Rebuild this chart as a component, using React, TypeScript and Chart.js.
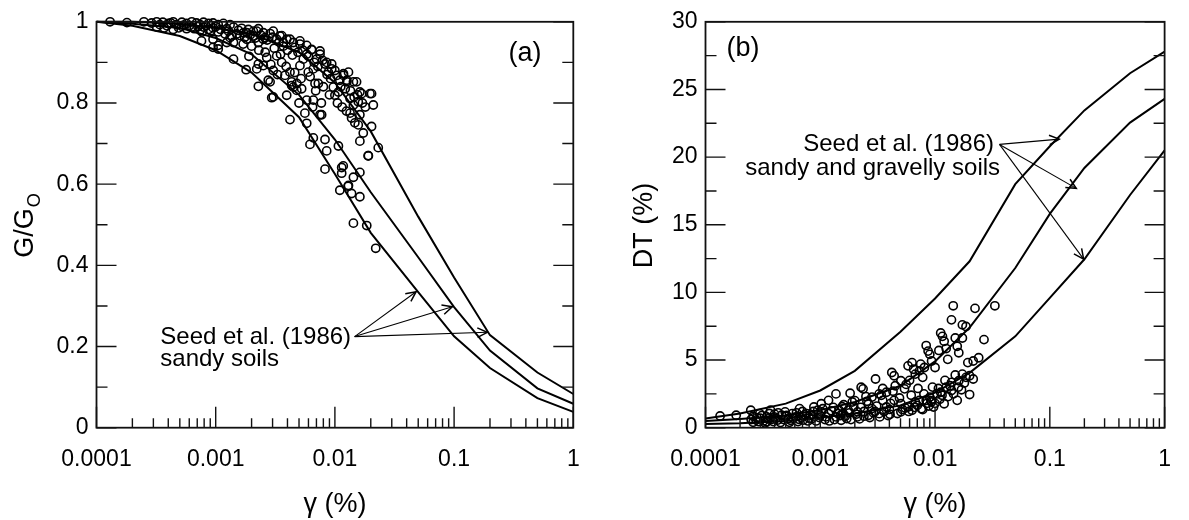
import React, { useEffect, useRef } from 'react';
import { Chart, registerables } from 'chart.js';

Chart.register(...registerables);

const FONT = '"Liberation Sans", Arial, Helvetica, sans-serif';

// ---------- data ----------
const strainGrid = [0.0001, 0.0002, 0.0005, 0.001, 0.002, 0.005, 0.01, 0.02, 0.05, 0.1, 0.2, 0.5, 1];

const seedModulusUpper = [1.0, 1.0, 0.995, 0.985, 0.97, 0.925, 0.85, 0.73, 0.52, 0.37, 0.228, 0.136, 0.083];
const seedModulusMiddle = [1.0, 0.995, 0.985, 0.96, 0.92, 0.82, 0.71, 0.58, 0.42, 0.297, 0.19, 0.097, 0.059];
const seedModulusLower = [1.0, 0.99, 0.965, 0.93, 0.875, 0.765, 0.625, 0.48, 0.334, 0.225, 0.147, 0.073, 0.039];

const seedDampingUpper = [0.68, 1.05, 1.78, 2.75, 4.2, 7.1, 9.55, 12.3, 18.0, 20.8, 23.45, 26.2, 27.8];
const seedDampingMiddle = [0.49, 0.65, 0.9, 1.3, 1.9, 3.1, 4.9, 7.4, 11.8, 15.8, 19.2, 22.55, 24.3];
const seedDampingLower = [0.27, 0.33, 0.5, 0.75, 1.05, 1.65, 2.6, 4.05, 6.75, 9.6, 12.45, 17.2, 20.5];

// measured G/Go  [strain %, G/Go]
const modulusTests: [number, number][] = [
  [1.3e-4, 1.0], [1.8e-4, 0.998], [2.5e-4, 1.0], [2.9e-4, 0.997], [3.2e-4, 1.0], [3.6e-4, 0.999], [4.0e-4, 0.996],
  [4.4e-4, 1.0], [4.7e-4, 0.993], [5.2e-4, 0.999], [5.7e-4, 0.996], [6.3e-4, 1.0], [6.9e-4, 0.997], [7.4e-4, 0.993],
  [7.9e-4, 0.999], [8.7e-4, 0.996], [9.5e-4, 0.997], [1.05e-3, 0.993], [1.16e-3, 0.996], [1.32e-3, 0.993],
  [3.2e-4, 0.987], [3.7e-4, 0.985], [4.4e-4, 0.981], [5.2e-4, 0.989], [5.7e-4, 0.983], [6.3e-4, 0.987], [7.4e-4, 0.979],
  [7.9e-4, 0.987], [8.7e-4, 0.981], [9.5e-4, 0.985], [1.05e-3, 0.975], [1.24e-3, 0.983], [1.41e-3, 0.987], [1.55e-3, 0.979],
  [1.71e-3, 0.973], [1.88e-3, 0.981], [2.07e-3, 0.977], [2.28e-3, 0.983], [2.51e-3, 0.973],
  [7.6e-4, 0.953], [9.5e-4, 0.957], [1.05e-3, 0.942], [1.32e-3, 0.961], [1.41e-3, 0.949], [1.6e-3, 0.966], [1.82e-3, 0.957],
  [2.07e-3, 0.965], [2.28e-3, 0.949], [2.59e-3, 0.961], [2.86e-3, 0.971], [3.25e-3, 0.957], [3.58e-3, 0.966], [3.94e-3, 0.957],
  [4.48e-3, 0.949], [5.09e-3, 0.953], [5.8e-3, 0.942], [6.38e-3, 0.931],
  [9.5e-4, 0.937], [1.24e-3, 0.949], [1.82e-3, 0.973], [2.21e-3, 0.977], [2.51e-3, 0.957], [3.04e-3, 0.977], [3.46e-3, 0.965],
  [3.69e-3, 0.949], [4.2e-3, 0.957], [4.62e-3, 0.937], [5.09e-3, 0.945], [5.8e-3, 0.92], [6.38e-3, 0.932], [7.03e-3, 0.908],
  [7.5e-3, 0.928], [8.53e-3, 0.9], [9.4e-3, 0.884], [1.04e-2, 0.868], [1.18e-2, 0.872], [1.26e-2, 0.856], [1.43e-2, 0.852],
  [1.62e-2, 0.827], [1.97e-2, 0.823], [2.1e-2, 0.795],
  [1.05e-3, 0.933], [1.41e-3, 0.908], [1.8e-3, 0.882], [2.28e-3, 0.841], [2.21e-3, 0.884], [2.51e-3, 0.892], [2.68e-3, 0.912],
  [2.76e-3, 0.856], [3.04e-3, 0.88], [3.25e-3, 0.916], [3.58e-3, 0.9], [3.81e-3, 0.868], [4.2e-3, 0.876], [4.34e-3, 0.852],
  [4.48e-3, 0.839], [4.79e-3, 0.848], [5.26e-3, 0.835], [5.09e-3, 0.892], [5.43e-3, 0.908], [5.98e-3, 0.876], [6.59e-3, 0.884],
  [6.81e-3, 0.848], [7.26e-3, 0.848], [7.5e-3, 0.92], [8.26e-3, 0.896], [8.81e-3, 0.876], [9.4e-3, 0.896], [9.7e-3, 0.839],
  [1.0e-2, 0.819], [1.07e-2, 0.827], [1.1e-2, 0.856], [1.18e-2, 0.868], [1.26e-2, 0.852], [1.3e-2, 0.876], [1.34e-2, 0.811],
  [1.43e-2, 0.795], [1.52e-2, 0.852], [1.57e-2, 0.803], [1.68e-2, 0.823],
  [2.28e-3, 0.896], [2.86e-3, 0.852], [3.04e-3, 0.815], [3.94e-3, 0.819], [4.34e-3, 0.843], [4.79e-3, 0.831], [5.8e-3, 0.807],
  [6.59e-3, 0.807], [7.5e-3, 0.771], [4.2e-3, 0.759], [5.8e-3, 0.75], [5.6e-3, 0.775], [8.26e-3, 0.71], [8.53e-3, 0.682],
  [1.07e-2, 0.694], [6.18e-3, 0.698], [2.95e-3, 0.813], [6.59e-3, 0.714], [7.74e-3, 0.771],
  [8.26e-3, 0.637], [1.14e-2, 0.641], [1.1e-2, 0.585], [1.3e-2, 0.597], [1.43e-2, 0.617], [1.62e-2, 0.569], [1.43e-2, 0.504],
  [1.85e-2, 0.498], [2.2e-2, 0.442], [1.175e-2, 0.645], [1.14e-2, 0.627], [1.29e-2, 0.595], [1.38e-2, 0.577], [1.9e-2, 0.67],
  [1.62e-2, 0.629],
  [1.34e-2, 0.775], [1.38e-2, 0.763], [1.47e-2, 0.751], [1.57e-2, 0.746], [1.62e-2, 0.771], [1.73e-2, 0.726], [1.62e-2, 0.706],
  [1.91e-2, 0.67], [2.03e-2, 0.742], [2.31e-2, 0.69], [2.03e-2, 0.823],
  [3.4e-4, 0.993], [3.9e-4, 0.99], [4.2e-4, 0.997], [4.9e-4, 0.985], [5.4e-4, 0.992], [6.0e-4, 0.99], [6.6e-4, 0.983],
  [7.1e-4, 0.988], [7.7e-4, 0.975], [8.3e-4, 0.99], [9.1e-4, 0.978], [1.0e-3, 0.988], [1.1e-3, 0.981], [1.2e-3, 0.97],
  [1.28e-3, 0.977], [1.36e-3, 0.965], [1.5e-3, 0.97], [1.65e-3, 0.984], [1.75e-3, 0.962], [1.95e-3, 0.968], [2.15e-3, 0.96],
  [2.4e-3, 0.967], [2.7e-3, 0.955], [3.0e-3, 0.962], [3.4e-3, 0.95], [3.7e-3, 0.94], [4.0e-3, 0.93], [4.4e-3, 0.918],
  [4.9e-3, 0.925], [5.4e-3, 0.93], [6.0e-3, 0.915], [6.7e-3, 0.9], [7.2e-3, 0.89], [7.9e-3, 0.905], [8.6e-3, 0.87],
  [9.2e-3, 0.86], [1.0e-2, 0.88], [1.12e-2, 0.84], [1.22e-2, 0.835], [1.35e-2, 0.83], [1.45e-2, 0.815], [1.55e-2, 0.82],
  [1.7e-2, 0.8], [1.8e-2, 0.79], [2.3e-3, 0.93], [2.0e-3, 0.94], [1.7e-3, 0.945], [3.1e-3, 0.935], [3.5e-3, 0.92],
  [2.6e-3, 0.925], [1.9e-3, 0.915], [2.9e-3, 0.895], [3.3e-3, 0.87], [3.9e-3, 0.89], [4.6e-3, 0.875], [5.2e-3, 0.86],
  [6.2e-3, 0.865], [6.9e-3, 0.83], [8.0e-3, 0.84], [9.0e-3, 0.82], [1.05e-2, 0.8], [1.15e-2, 0.79], [1.25e-2, 0.78],
  [6.5e-3, 0.79], [7.7e-3, 0.8], [5.0e-3, 0.8],
];

// measured damping  [strain %, D (%)]
const dampingTests: [number, number][] = [
  [1.34e-4, 0.87], [1.85e-4, 0.92], [2.48e-4, 1.29], [2.97e-4, 1.04], [3.69e-4, 1.29], [4.94e-4, 1.17], [6.6e-4, 1.41],
  [8.8e-4, 1.53], [1.02e-3, 1.77], [1.18e-3, 2.02], [1.37e-3, 2.5], [1.82e-3, 2.55], [2.27e-3, 2.99], [2.36e-3, 2.87],
  [3.03e-3, 3.6], [2.82e-3, 2.26], [3.26e-3, 2.5], [3.77e-3, 2.62], [4.2e-3, 4.08], [4.4e-3, 3.84], [5.04e-3, 3.47],
  [5.42e-3, 2.87], [5.82e-3, 4.57], [6.3e-3, 4.81], [6.5e-3, 4.32], [6.73e-3, 3.96], [7.3e-3, 4.2], [7.8e-3, 3.72],
  [8.07e-3, 4.45], [8.37e-3, 6.07], [8.7e-3, 5.66], [9.0e-3, 5.42], [9.33e-3, 4.93], [1.0e-2, 4.45], [1.08e-2, 5.71],
  [1.12e-2, 7.0], [1.16e-2, 6.75], [1.2e-2, 6.39], [1.25e-2, 5.85], [1.29e-2, 5.05], [1.39e-2, 7.97], [1.44e-2, 9.01],
  [1.5e-2, 6.63], [1.56e-2, 6.02], [1.61e-2, 5.54], [1.73e-2, 7.6], [1.73e-2, 6.63], [1.86e-2, 7.48], [1.93e-2, 4.81],
  [2.15e-2, 4.93], [2.23e-2, 8.82], [2.4e-2, 5.17], [2.67e-2, 6.51], [3.32e-2, 9.01],
  [2.15e-2, 3.6], [2.0e-2, 2.45], [1.56e-2, 2.02], [1.2e-2, 1.77], [9.7e-3, 1.53], [7.8e-3, 1.34], [1.25e-2, 2.99],
  [1.39e-2, 3.35], [1.61e-2, 3.47], [1.73e-2, 3.96], [1.86e-2, 3.72], [2.0e-2, 3.84], [1.39e-2, 2.75], [1.12e-2, 2.62],
  [9.0e-3, 2.26], [7.3e-3, 2.02], [5.82e-3, 1.53],
  [2.76e-4, 0.56], [3.43e-4, 0.44], [4.27e-4, 0.56], [5.3e-4, 0.68], [7.1e-4, 0.56], [8.8e-4, 0.8], [1.1e-3, 0.6],
  [1.37e-3, 0.8], [1.7e-3, 0.68], [2.11e-3, 0.8], [2.63e-3, 0.92], [3.26e-3, 1.04], [4.05e-3, 0.99], [5.04e-3, 1.17],
  [6.3e-3, 1.29], [5.7e-4, 1.04], [7.6e-4, 1.04], [1.02e-3, 1.17], [1.46e-3, 1.29], [1.96e-3, 1.53], [2.63e-3, 1.77],
  [3.5e-3, 2.02], [4.4e-3, 2.02], [3.43e-4, 0.8], [4.6e-4, 0.92], [6.1e-4, 0.8], [8.2e-4, 0.92], [1.18e-3, 1.04],
  [1.58e-3, 1.04], [2.11e-3, 1.17], [2.82e-3, 1.41], [3.77e-3, 1.53], [5.04e-3, 1.77], [6.73e-3, 1.9], [8.37e-3, 2.02],
  [9.3e-3, 1.9], [1.04e-2, 2.5], [3.97e-4, 0.8],
  [2.5e-4, 0.6], [2.6e-4, 0.85], [3.0e-4, 0.7], [3.2e-4, 0.5], [3.8e-4, 0.62], [4.0e-4, 1.0], [5.0e-4, 0.85], [5.5e-4, 0.55],
  [6.5e-4, 0.62], [7.0e-4, 1.2], [8.0e-4, 0.7], [9.5e-4, 1.3], [1.0e-3, 0.9], [1.3e-3, 1.5], [1.5e-3, 0.9], [1.6e-3, 1.7],
  [1.8e-3, 1.1], [2.0e-3, 2.0], [2.4e-3, 1.2], [2.5e-3, 2.3], [3.0e-3, 1.2], [3.5e-3, 2.9], [4.0e-3, 1.35], [4.5e-3, 3.1],
  [5.5e-3, 1.45], [6.0e-3, 3.5], [7.0e-3, 1.65], [7.5e-3, 4.7], [8.5e-3, 1.8], [9.5e-3, 3.0], [1.1e-2, 2.1], [1.3e-2, 2.3],
  [1.5e-2, 3.9], [1.7e-2, 2.8],
  [2.6e-4, 0.4], [2.8e-4, 0.75], [2.9e-4, 0.45], [3.1e-4, 0.9], [3.3e-4, 0.35], [3.5e-4, 0.65], [3.6e-4, 1.05], [3.9e-4, 0.45],
  [4.1e-4, 0.7], [4.3e-4, 1.1], [4.5e-4, 0.38], [4.8e-4, 0.6], [5.1e-4, 0.9], [5.4e-4, 0.4], [5.8e-4, 0.7], [6.2e-4, 1.1],
  [6.4e-4, 0.45], [6.8e-4, 0.75], [7.3e-4, 0.95], [7.8e-4, 0.5], [8.4e-4, 0.65], [8.7e-4, 1.2], [9.2e-4, 0.5], [9.8e-4, 0.75],
  [1.05e-3, 1.4], [1.12e-3, 0.8], [1.2e-3, 0.5], [1.25e-3, 1.25], [1.33e-3, 0.6], [1.42e-3, 1.05], [1.52e-3, 0.55],
  [1.55e-3, 1.55], [1.65e-3, 0.85], [1.75e-3, 1.3], [1.85e-3, 0.6], [1.9e-3, 1.9], [2.05e-3, 1.0], [2.2e-3, 0.65],
  [2.25e-3, 1.5], [2.4e-3, 0.85], [2.55e-3, 1.95], [2.7e-3, 0.75], [2.9e-3, 1.1], [3.1e-3, 1.6], [3.3e-3, 0.8], [3.4e-3, 2.4],
  [3.6e-3, 1.2], [3.9e-3, 0.9], [4.1e-3, 1.8], [4.3e-3, 2.7], [4.7e-3, 1.05], [4.9e-3, 2.2], [5.2e-3, 1.35], [5.6e-3, 3.2],
  [5.9e-3, 1.2], [6.2e-3, 2.4], [6.6e-3, 1.5], [7.1e-3, 2.9], [7.6e-3, 1.4], [8.0e-3, 2.5], [8.8e-3, 1.6], [9.2e-3, 2.0],
  [1.0e-2, 1.8], [1.07e-2, 2.9], [1.15e-2, 2.4], [1.22e-2, 3.5], [1.35e-2, 3.1], [1.45e-2, 2.5], [1.6e-2, 3.0], [1.8e-2, 3.3],
];

const xMajorTicks = [0.0001, 0.001, 0.01, 0.1, 1];
const xTickLabels = ['0.0001', '0.001', '0.01', '0.1', '1'];
const modulusTicks = [0, 0.2, 0.4, 0.6, 0.8, 1];
const modulusTickLabels = ['0', '0.2', '0.4', '0.6', '0.8', '1'];
const modulusMinorTicks = [0.1, 0.3, 0.5, 0.7, 0.9];
const dampingTicks = [0, 5, 10, 15, 20, 25, 30];
const dampingTickLabels = ['0', '5', '10', '15', '20', '25', '30'];
const dampingMinorTicks = [2.5, 7.5, 12.5, 17.5, 22.5, 27.5];

// annotation anchors (data units)
const noteA = { lines: ['Seed et al. (1986)', 'sandy soils'], at: [[3.43e-4, 0.2072], [3.43e-4, 0.152]], tips: [[0.048, 0.335], [0.0966, 0.298], [0.19, 0.235]], gap: 3.5 };
const noteB = { lines: ['Seed et al. (1986)', 'sandy and gravelly soils'], at: [[7.1e-4, 20.42], [2.22e-4, 18.67]], tips: [[0.1208, 21.33], [0.17, 17.69], [0.197, 12.46]], gap: 5.5 };

type Spec = {
  canvasLeft: number;
  canvasWidth: number;
  plotLeft: number;
  plotRight: number;
  yMax: number;
  yTicks: number[];
  yTickLabels: string[];
  yMinor: number[];
  curves: number[][];
  tests: [number, number][];
  note: { lines: string[]; at: number[][]; tips: number[][]; gap: number };
  panelLabel: string;
  panelLabelPos: [string, number, number];
  yTitle: string;
  ySub: string;
  yTitleDx: number;
};

const PLOT_TOP = 15.5;
const PLOT_BOTTOM = 427.7;
const H = 520;

function makeFrame(spec: Spec) {
  return {
    id: 'frame',
    afterDatasetsDraw(chart: any) {
      const { ctx, chartArea, scales } = chart;
      const { left, right, top, bottom } = chartArea;
      const x = scales.x;
      const y = scales.y;
      ctx.save();
      ctx.strokeStyle = '#111';
      ctx.lineWidth = 1.4;
      ctx.beginPath();
      for (let k = -4; k <= 0; k++) {
        for (let m = 1; m <= 9; m++) {
          const v = m * Math.pow(10, k);
          if (v > 1.0000001) continue;
          const px = x.getPixelForValue(v);
          const len = m === 1 ? 21 : 9.5;
          ctx.moveTo(px, bottom);
          ctx.lineTo(px, bottom - len);
        }
      }
      const yTick = (v: number, len: number) => {
        const py = y.getPixelForValue(v);
        ctx.moveTo(left, py);
        ctx.lineTo(left + len, py);
        ctx.moveTo(right, py);
        ctx.lineTo(right - len, py);
      };
      spec.yTicks.forEach((v) => yTick(v, 20));
      spec.yMinor.forEach((v) => yTick(v, 11));
      ctx.stroke();
      ctx.lineWidth = 1.8;
      ctx.strokeStyle = '#111';
      ctx.strokeRect(left, top, right - left, bottom - top);

      ctx.fillStyle = '#000';
      ctx.font = `27px ${FONT}`;
      ctx.textAlign = 'center';
      ctx.textBaseline = 'alphabetic';
      const [side, dx, dy] = spec.panelLabelPos;
      ctx.fillText(spec.panelLabel, side === 'right' ? right - dx : left + dx, top + dy);

      ctx.font = `24px ${FONT}`;
      ctx.textAlign = 'left';
      const note = spec.note;
      note.lines.forEach((t, i) => {
        const [gx, gy] = note.at[i];
        ctx.fillText(t, x.getPixelForValue(gx), y.getPixelForValue(gy));
      });
      const ox = x.getPixelForValue(note.at[0][0]) + ctx.measureText(note.lines[0]).width + note.gap;
      const oy = y.getPixelForValue(note.at[0][1]) - 7;
      ctx.strokeStyle = '#000';
      note.tips.forEach(([tx, ty]) => {
        const px = x.getPixelForValue(tx);
        const py = y.getPixelForValue(ty);
        const ang = Math.atan2(py - oy, px - ox);
        ctx.lineWidth = 1.1;
        ctx.beginPath();
        ctx.moveTo(ox, oy);
        ctx.lineTo(px, py);
        ctx.stroke();
        ctx.lineWidth = 1.5;
        ctx.beginPath();
        const hl = 11;
        ctx.moveTo(px - hl * Math.cos(ang - 0.45), py - hl * Math.sin(ang - 0.45));
        ctx.lineTo(px, py);
        ctx.lineTo(px - hl * Math.cos(ang + 0.45), py - hl * Math.sin(ang + 0.45));
        ctx.stroke();
      });

      ctx.font = `27px ${FONT}`;
      ctx.textAlign = 'center';
      ctx.textBaseline = 'alphabetic';
      ctx.fillText('γ (%)', (left + right) / 2, bottom + 84);

      ctx.save();
      const mainW = ctx.measureText(spec.yTitle).width;
      ctx.font = `18px ${FONT}`;
      const subW = spec.ySub ? ctx.measureText(spec.ySub).width + 1 : 0;
      const total = mainW + subW;
      const cy = 225.5;
      ctx.translate(left + spec.yTitleDx, cy + total / 2);
      ctx.rotate(-Math.PI / 2);
      ctx.textAlign = 'left';
      ctx.font = `27px ${FONT}`;
      ctx.fillText(spec.yTitle, 0, 0);
      if (spec.ySub) {
        ctx.font = `18px ${FONT}`;
        ctx.fillText(spec.ySub, mainW + 1, 7);
      }
      ctx.restore();
      ctx.restore();
    },
  };
}

function Panel({ spec }: { spec: Spec }) {
  const ref = useRef<HTMLCanvasElement | null>(null);
  useEffect(() => {
    const canvas = ref.current;
    if (!canvas) return;
    const lineSets = spec.curves.map((c) => ({
      data: strainGrid.map((g, i) => ({ x: g, y: c[i] })),
      showLine: true,
      borderColor: '#000',
      borderWidth: 2,
      pointRadius: 0,
      fill: false,
      tension: 0,
      clip: false as any,
    }));
    const chart = new Chart(canvas, {
      type: 'scatter',
      data: {
        datasets: [
          ...lineSets,
          {
            data: spec.tests.map(([g, v]) => ({ x: g, y: v })),
            showLine: false,
            pointRadius: 4.1,
            pointBorderWidth: 1.6,
            pointBorderColor: '#000',
            pointBackgroundColor: 'rgba(0,0,0,0)',
            pointStyle: 'circle',
            clip: false as any,
          },
        ],
      },
      options: {
        responsive: false,
        animation: false,
        devicePixelRatio: 1,
        events: [],
        layout: { padding: { left: 0, top: PLOT_TOP, right: spec.canvasWidth - spec.plotRight, bottom: 0 } },
        plugins: { legend: { display: false }, tooltip: { enabled: false } },
        scales: {
          x: {
            type: 'logarithmic',
            position: 'bottom',
            min: 0.0001,
            max: 1,
            afterBuildTicks: (s: any) => {
              s.ticks = xMajorTicks.map((v) => ({ value: v }));
            },
            afterFit: (s: any) => {
              s.height = H - PLOT_BOTTOM;
            },
            grid: { display: false, drawTicks: false },
            border: { display: false },
            ticks: {
              autoSkip: false,
              maxRotation: 0,
              minRotation: 0,
              padding: 18,
              color: '#000',
              font: { family: FONT, size: 23 },
              callback: (_v: any, i: number) => xTickLabels[i],
            },
          },
          y: {
            type: 'linear',
            position: 'left',
            min: 0,
            max: spec.yMax,
            afterBuildTicks: (s: any) => {
              s.ticks = spec.yTicks.map((v) => ({ value: v }));
            },
            afterFit: (s: any) => {
              s.width = spec.plotLeft;
            },
            grid: { display: false, drawTicks: false },
            border: { display: false },
            ticks: {
              autoSkip: false,
              padding: 8,
              color: '#000',
              font: { family: FONT, size: 23 },
              callback: (_v: any, i: number) => spec.yTickLabels[i],
            },
          },
        },
      } as any,
      plugins: [makeFrame(spec)],
    });
    return () => chart.destroy();
  }, [spec]);
  return (
    <canvas
      ref={ref}
      width={spec.canvasWidth}
      height={H}
      style={{ position: 'absolute', left: spec.canvasLeft, top: 0, width: spec.canvasWidth, height: H }}
    />
  );
}

const specA: Spec = {
  canvasLeft: 0,
  canvasWidth: 600,
  plotLeft: 96.5,
  plotRight: 573.3,
  yMax: 1,
  yTicks: modulusTicks,
  yTickLabels: modulusTickLabels,
  yMinor: modulusMinorTicks,
  curves: [seedModulusUpper, seedModulusMiddle, seedModulusLower],
  tests: modulusTests,
  note: noteA,
  panelLabel: '(a)',
  panelLabelPos: ['right', 48.3, 38.8],
  yTitle: 'G/G',
  ySub: 'O',
  yTitleDx: -63.5,
};

const specB: Spec = {
  canvasLeft: 600,
  canvasWidth: 589,
  plotLeft: 105.5,
  plotRight: 583.3,
  yMax: 30,
  yTicks: dampingTicks,
  yTickLabels: dampingTickLabels,
  yMinor: dampingMinorTicks,
  curves: [seedDampingUpper, seedDampingMiddle, seedDampingLower],
  tests: dampingTests,
  note: noteB,
  panelLabel: '(b)',
  panelLabelPos: ['left', 37.6, 33.8],
  yTitle: 'DT (%)',
  ySub: '',
  yTitleDx: -53.5,
};

export default function App() {
  return (
    <div style={{ position: 'absolute', left: 0, top: 0, width: 1189, height: H, background: '#fff', overflow: 'hidden' }}>
      <Panel spec={specA} />
      <Panel spec={specB} />
    </div>
  );
}
